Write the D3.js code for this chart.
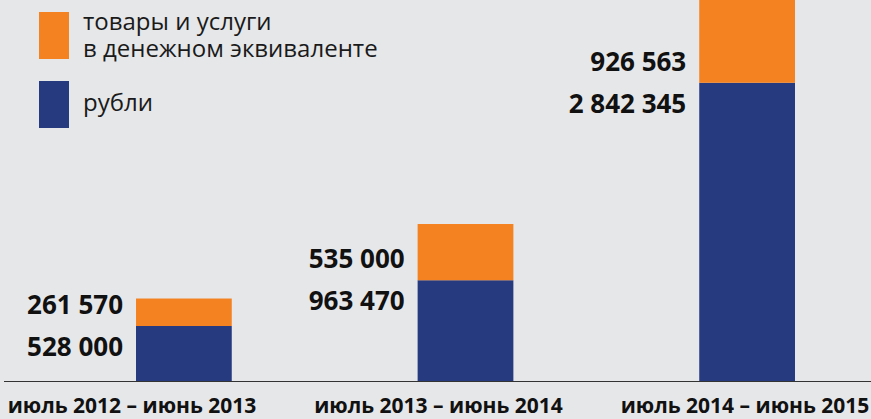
<!DOCTYPE html>
<html><head><meta charset="utf-8">
<script src="https://cdn.jsdelivr.net/npm/d3@7"></script>
<style>
html,body{margin:0;padding:0;background:#e6e7e9;}
svg{display:block;font-family:"Open Sans",sans-serif;}
</style></head>
<body><svg id="c" width="871" height="419"></svg>
<script>
const categories = ["июль 2012 – июнь 2013", "июль 2013 – июнь 2014", "июль 2014 – июнь 2015"];
const rubles = [528000, 963470, 2842345];
const goods = [261570, 535000, 926563];
const seriesNames = ["товары и услуги\nв денежном эквиваленте", "рубли"];
const colors = ["#f58220", "#263a80"];

const svg = d3.select("#c");
const W = 871, H = 419;
const baseY = 381.5;

const x = d3.scaleBand().domain(categories).range([136, 795]).paddingInner(0.66).paddingOuter(0);
const y = d3.scaleLinear().domain([0, 3630000]).range([baseY, 0]);
const xl = d3.scalePoint().domain(categories).range([132, 745]);

const fmt = v => d3.format(",")(v).replace(/,/g, " ");

const data = categories.map((c, i) => ({cat: c, rub: rubles[i], goods: goods[i]}));

// bars
const g = svg.append("g");
g.selectAll("rect.rub").data(data).join("rect")
  .attr("x", d => x(d.cat)).attr("width", x.bandwidth())
  .attr("y", d => y(d.rub)).attr("height", d => y(0) - y(d.rub))
  .attr("fill", colors[1]);
g.selectAll("rect.goods").data(data).join("rect")
  .attr("x", d => x(d.cat)).attr("width", x.bandwidth())
  .attr("y", d => y(d.rub + d.goods)).attr("height", d => y(d.rub) - y(d.rub + d.goods))
  .attr("fill", colors[0]);

// value labels
g.selectAll("text.gv").data(data).join("text")
  .attr("x", d => x(d.cat) - 13).attr("y", d => y(d.rub) - 12)
  .attr("text-anchor", "end").attr("font-size", 26).attr("font-weight", 700).attr("fill", "#111")
  .text(d => fmt(d.goods));
g.selectAll("text.rv").data(data).join("text")
  .attr("x", d => x(d.cat) - 13).attr("y", d => y(d.rub) + 30)
  .attr("text-anchor", "end").attr("font-size", 26).attr("font-weight", 700).attr("fill", "#111")
  .text(d => fmt(d.rub));

// baseline
svg.append("line").attr("x1", 4).attr("x2", W).attr("y1", baseY).attr("y2", baseY)
  .attr("stroke", "#333").attr("stroke-width", 1.2);

// category labels
svg.selectAll("text.cat").data(categories).join("text")
  .attr("x", d => xl(d)).attr("y", 413).attr("text-anchor", "middle")
  .attr("font-size", 21).attr("font-weight", 700).attr("fill", "#111")
  .text(d => d);

// legend
const leg = svg.append("g");
seriesNames.forEach((name, i) => {
  const top = 12 + i * 69;
  leg.append("rect").attr("x", 39).attr("y", top).attr("width", 30).attr("height", 47).attr("fill", colors[i]);
  const lines = name.split("\n");
  lines.forEach((ln, j) => {
    leg.append("text").attr("font-size", 24).attr("fill", "#1a1a1a")
      .attr("x", 83).attr("y", i === 0 ? 30 + j * 27 : 111).text(ln);
  });
});
</script></body></html>
